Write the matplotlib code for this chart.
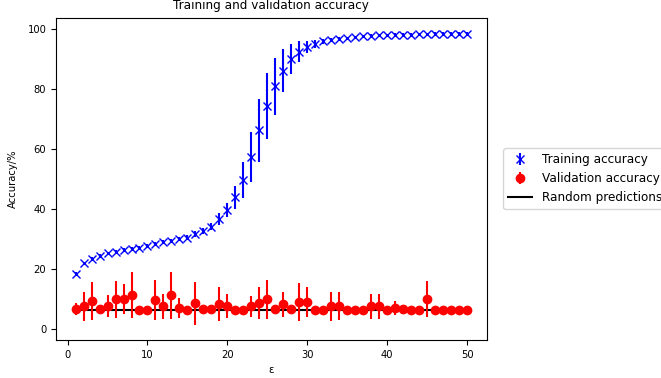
import matplotlib

matplotlib.use("Agg")
import matplotlib.pyplot as plt

# epsilon values 1..50
epsilons = list(range(1, 51))

train_acc = [
    18.5, 21.9, 23.5, 24.4, 25.2, 25.8, 26.3, 26.8, 27.0, 27.6,
    28.3, 28.9, 29.5, 30.0, 30.5, 31.7, 32.6, 34.1, 36.8, 39.6,
    43.9, 49.7, 57.4, 66.3, 74.4, 81.1, 86.2, 90.1, 92.6, 94.1,
    95.2, 96.0, 96.5, 96.9, 97.1, 97.4, 97.7, 97.9, 98.0, 98.1,
    98.2, 98.3, 98.3, 98.4, 98.4, 98.5, 98.5, 98.6, 98.6, 98.6,
]
train_err = [
    0.6, 0.6, 0.6, 0.6, 0.6, 0.6, 0.6, 0.6, 0.6, 0.6,
    0.7, 0.7, 0.7, 0.7, 0.8, 0.9, 1.0, 1.2, 2.0, 2.3,
    3.9, 5.9, 8.5, 10.5, 11.0, 9.5, 7.2, 4.9, 3.4, 2.1,
    1.3, 0.9, 0.7, 0.6, 0.5, 0.5, 0.5, 0.5, 0.5, 0.5,
    0.5, 0.5, 0.5, 0.5, 0.5, 0.5, 0.5, 0.5, 0.5, 0.5,
]

val_acc = [
    6.8, 7.6, 9.3, 6.8, 7.6, 9.9, 9.9, 11.2, 6.2, 6.2,
    9.6, 7.6, 11.2, 7.0, 6.2, 8.5, 6.5, 6.8, 8.4, 7.6,
    6.2, 6.2, 7.6, 8.7, 9.9, 6.5, 8.2, 6.8, 9.0, 9.0,
    6.2, 6.2, 7.6, 7.6, 6.2, 6.2, 6.2, 7.6, 7.6, 6.2,
    7.0, 6.5, 6.2, 6.2, 10.1, 6.2, 6.2, 6.2, 6.2, 6.2,
]
val_err = [
    2.0, 4.8, 6.3, 1.0, 3.7, 6.2, 5.0, 7.7, 0.0, 0.0,
    6.7, 4.2, 7.9, 3.4, 0.0, 7.3, 0.0, 0.5, 5.6, 4.0,
    0.0, 0.0, 3.5, 5.4, 6.5, 0.0, 4.3, 0.0, 6.2, 4.9,
    0.0, 0.0, 4.8, 4.7, 0.0, 0.0, 0.0, 4.2, 4.2, 0.0,
    2.2, 0.0, 0.0, 0.0, 6.0, 0.0, 0.0, 0.0, 0.0, 0.0,
]

# chance level for 16 classes
random_acc = 100 / 16

plt.rcParams["font.size"] = 7.2

fig = plt.figure(figsize=(6.61, 3.78), dpi=100)
ax = fig.add_axes([0.0847, 0.1005, 0.6516, 0.8532])

h_rand, = ax.plot(epsilons, [random_acc] * len(epsilons), "k-",
                  label="Random predictions", zorder=1.5)
h_train = ax.errorbar(epsilons, train_acc, yerr=train_err, fmt="bx",
                      label="Training accuracy")
h_val = ax.errorbar(epsilons, val_acc, yerr=val_err, fmt="ro",
                    label="Validation accuracy")

ax.set_title("Training and validation accuracy")
ax.set_xlabel("ε")
ax.set_ylabel("Accuracy/%", labelpad=7)
ax.legend(handles=[h_train, h_val, h_rand], loc="center left",
          bbox_to_anchor=(1.025, 0.5), fontsize="large")

fig.savefig("out.png", dpi=100)
